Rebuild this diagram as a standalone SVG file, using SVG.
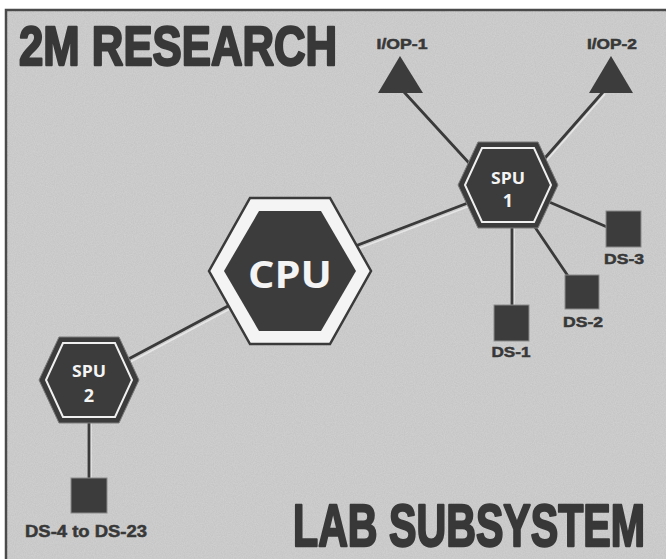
<svg xmlns="http://www.w3.org/2000/svg" width="666" height="559" viewBox="0 0 666 559">
<defs>
<filter id="grain" x="0" y="0" width="100%" height="100%">
<feTurbulence type="fractalNoise" baseFrequency="0.9" numOctaves="2" seed="3" result="n"/>
<feColorMatrix in="n" type="matrix" values="0 0 0 0 1  0 0 0 0 1  0 0 0 0 1  0.45 0 0 0 -0.1" result="w"/>
<feComposite in="w" in2="SourceGraphic" operator="in"/>
</filter>
<style>
.dark{fill:#3c3c3c}
.wire{stroke:#3a3a3a;stroke-width:2.8;fill:none;stroke-linecap:round}
.hl{stroke:#f2f2f2;stroke-width:1.5;fill:none;opacity:0.7}
.lbl{font-family:"Liberation Sans",Arial,sans-serif;font-weight:bold;fill:#383838;stroke:#383838;stroke-width:0.5}
.big{stroke-width:2.4;stroke-linejoin:round}
.wt{font-family:"Open Sans","Liberation Sans",sans-serif;font-weight:bold;fill:#f4f4f4;text-anchor:middle}
.box{fill:#3c3c3c;stroke:#8a8a8a;stroke-width:1}
</style>
</defs>
<rect x="0" y="0" width="666" height="559" fill="#ffffff"/>
<rect x="6" y="10" width="670" height="560" fill="#c6c6c6" stroke="#4a4a4a" stroke-width="2.5"/>
<rect x="7" y="11" width="659" height="548" fill="#c6c6c6" filter="url(#grain)" opacity="0.6"/>

<text class="lbl big" transform="translate(19,65) scale(0.795,1)" x="0" y="0" font-size="55">2M RESEARCH</text>
<text class="lbl big" transform="translate(293,546) scale(0.686,1)" x="0" y="0" font-size="60">LAB SUBSYSTEM</text>

<g id="connectors">
<line class="hl" x1="406" y1="94" x2="482" y2="176"/>
<line class="wire" x1="404" y1="92" x2="480" y2="175"/>
<line class="hl" x1="605" y1="94" x2="533" y2="176"/>
<line class="wire" x1="603" y1="92" x2="530" y2="175"/>
<line class="hl" x1="292" y1="274" x2="509" y2="191"/>
<line class="wire" x1="290" y1="271" x2="507" y2="188"/>
<line class="hl" x1="91" y1="383" x2="292" y2="276"/>
<line class="wire" x1="89" y1="380" x2="290" y2="273"/>
<line class="hl" x1="91" y1="420" x2="91" y2="478"/>
<line class="wire" x1="89" y1="420" x2="89" y2="478"/>
<line class="hl" x1="514" y1="225" x2="514" y2="305"/>
<line class="wire" x1="512" y1="225" x2="512" y2="305"/>
<line class="wire" x1="520" y1="205" x2="568" y2="276"/>
<line class="wire" x1="540" y1="198" x2="607" y2="227"/>
</g>

<g id="iop1">
<polygon class="dark" points="400,56 378,93 423,93"/>
<text class="lbl" x="402" y="49" font-size="14" text-anchor="middle" textLength="51" lengthAdjust="spacingAndGlyphs">I/OP-1</text>
</g>
<g id="iop2">
<polygon class="dark" points="611,56 589,93 633,93"/>
<text class="lbl" x="612" y="49" font-size="14" text-anchor="middle" textLength="50" lengthAdjust="spacingAndGlyphs">I/OP-2</text>
</g>

<g id="cpu">
<polygon points="209,271 250,198 330,198 371,271 330,344 250,344" fill="#f4f4f4" stroke="#3a3a3a" stroke-width="2.5"/>
<polygon class="dark" points="224,271 259,211 321,211 356,271 321,331 259,331"/>
<text class="wt" x="290" y="288" font-size="38" textLength="84" lengthAdjust="spacingAndGlyphs">CPU</text>
</g>

<g id="spu1">
<polygon class="dark" points="458,185 478,142 538,142 558,185 538,228 478,228" stroke="#7a7a7a" stroke-width="1"/>
<polygon points="465,185 482,148 534,148 551,185 534,222 482,222" fill="none" stroke="#f0f0f0" stroke-width="2"/>
<text class="wt" x="508" y="184" font-size="16" textLength="34" lengthAdjust="spacingAndGlyphs">SPU</text>
<text class="wt" x="508" y="207" font-size="18">1</text>
</g>

<g id="spu2">
<polygon class="dark" points="39,380 59,337 119,337 139,380 119,423 59,423" stroke="#7a7a7a" stroke-width="1"/>
<polygon points="46,380 63,343 115,343 132,380 115,417 63,417" fill="none" stroke="#f0f0f0" stroke-width="2"/>
<text class="wt" x="89" y="377" font-size="16" textLength="34" lengthAdjust="spacingAndGlyphs">SPU</text>
<text class="wt" x="89" y="402" font-size="18">2</text>
</g>

<g id="ds1">
<rect class="box" x="494" y="305" width="35" height="36"/>
<text class="lbl" x="511" y="357" font-size="15" text-anchor="middle" textLength="39" lengthAdjust="spacingAndGlyphs">DS-1</text>
</g>
<g id="ds2">
<rect class="box" x="565" y="275" width="34" height="34"/>
<text class="lbl" x="583" y="327" font-size="15" text-anchor="middle" textLength="40" lengthAdjust="spacingAndGlyphs">DS-2</text>
</g>
<g id="ds3">
<rect class="box" x="606" y="211" width="35" height="36"/>
<text class="lbl" x="624" y="264" font-size="15" text-anchor="middle" textLength="40" lengthAdjust="spacingAndGlyphs">DS-3</text>
</g>
<g id="ds4">
<rect class="box" x="71" y="478" width="36" height="35"/>
<text class="lbl" x="25" y="537" font-size="16" textLength="122" lengthAdjust="spacingAndGlyphs">DS-4 to DS-23</text>
</g>
</svg>
